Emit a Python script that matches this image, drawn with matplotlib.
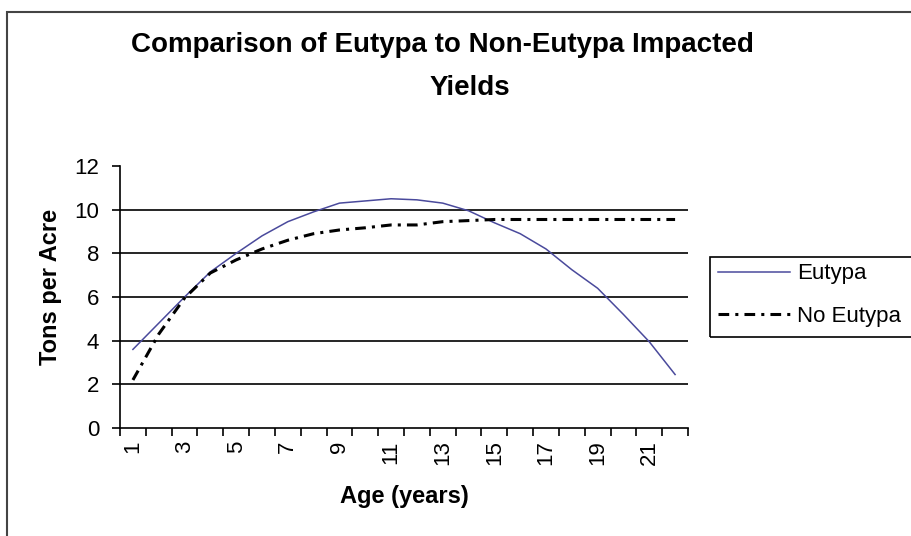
import matplotlib
matplotlib.use('Agg')
import matplotlib.pyplot as plt
from matplotlib.patches import Rectangle
import numpy as np

# Data
ages = list(range(1, 23))
eutypa = [3.6, 4.8, 6.0, 7.15, 8.0, 8.8, 9.45, 9.9, 10.3, 10.4, 10.5, 10.45,
          10.3, 9.95, 9.4, 8.9, 8.2, 7.25, 6.4, 5.2, 3.95, 2.45]
no_eutypa = [2.2, 4.3, 5.95, 7.1, 7.7, 8.2, 8.6, 8.9, 9.07, 9.17, 9.3, 9.3,
             9.45, 9.5, 9.55, 9.55, 9.55, 9.55, 9.55, 9.55, 9.55, 9.55]
x_labels = [str(a) for a in ages[::2]]

plt.rcParams['font.family'] = ['Liberation Sans', 'DejaVu Sans']

W, H = 912, 536
fig = plt.figure(figsize=(W / 100, H / 100), dpi=100)
fig.patch.set_facecolor('white')

# axes placed in pixel coordinates of the reference
left, right, top, bottom = 120, 688, 166, 428
ax = fig.add_axes([left / W, (H - bottom) / H, (right - left) / W, (bottom - top) / H])

ax.plot(ages, eutypa, color='#4a4a9c', linewidth=1.1, label='Eutypa', zorder=3)
ax.plot(ages, no_eutypa, color='black', linewidth=2.2, linestyle=(0, (3.5, 2, 1, 2)),
        label='No Eutypa', zorder=3)

ax.set_xlim(0.5, 22.5)
ax.set_ylim(0, 12)
ax.set_yticks(np.arange(0, 13, 2))
ax.tick_params(axis='y', labelsize=16, direction='out', length=6, width=1.2, pad=9)
for yv in range(2, 12, 2):
    ax.axhline(yv, color='black', linewidth=1.2, zorder=1)

# category ticks between categories, labels on odd ages
ax.set_xticks(np.arange(0.5, 23, 1))
ax.set_xticklabels([])
ax.tick_params(axis='x', which='major', direction='out', length=6, width=1.2)
ax.set_xticks(ages[::2], minor=True)
ax.set_xticklabels(x_labels, minor=True, rotation=90, fontsize=16)
ax.tick_params(axis='x', which='minor', length=0, pad=9)

for s in ['top', 'right']:
    ax.spines[s].set_visible(False)
for s in ['left', 'bottom']:
    ax.spines[s].set_linewidth(1.2)

ax.set_ylabel('Tons per Acre', fontsize=17, fontweight='bold')
ax.yaxis.set_label_coords(-0.102, 0.54)
ax.set_xlabel('Age (years)', fontsize=17, fontweight='bold', labelpad=14)

# title, two centred lines
fig.text(442 / W, 1 - 45 / H, 'Comparison of Eutypa to Non-Eutypa Impacted',
         ha='center', va='center', fontsize=20, fontweight='bold')
fig.text(470 / W, 1 - 88 / H, 'Yields', ha='center', va='center',
         fontsize=20, fontweight='bold')

# outer chart border (runs past the right and bottom edges)
fig.add_artist(Rectangle((7 / W, -0.1), 1.2, (H - 12) / H + 0.1, transform=fig.transFigure,
                         fill=False, edgecolor='#444444', linewidth=1.5))

# legend box (also cut off at right)
fig.add_artist(Rectangle((710 / W, 1 - 337 / H), 0.3, 80 / H, transform=fig.transFigure,
                         fill=False, edgecolor='black', linewidth=1.2))
leg = fig.legend(loc='upper left', bbox_to_anchor=(714 / W, 1 - 259 / H), frameon=False,
                 fontsize=16, handlelength=3.2, handletextpad=0.35, labelspacing=0.95,
                 borderpad=0.2, borderaxespad=0)

fig.savefig('out.png', dpi=100, facecolor='white')
